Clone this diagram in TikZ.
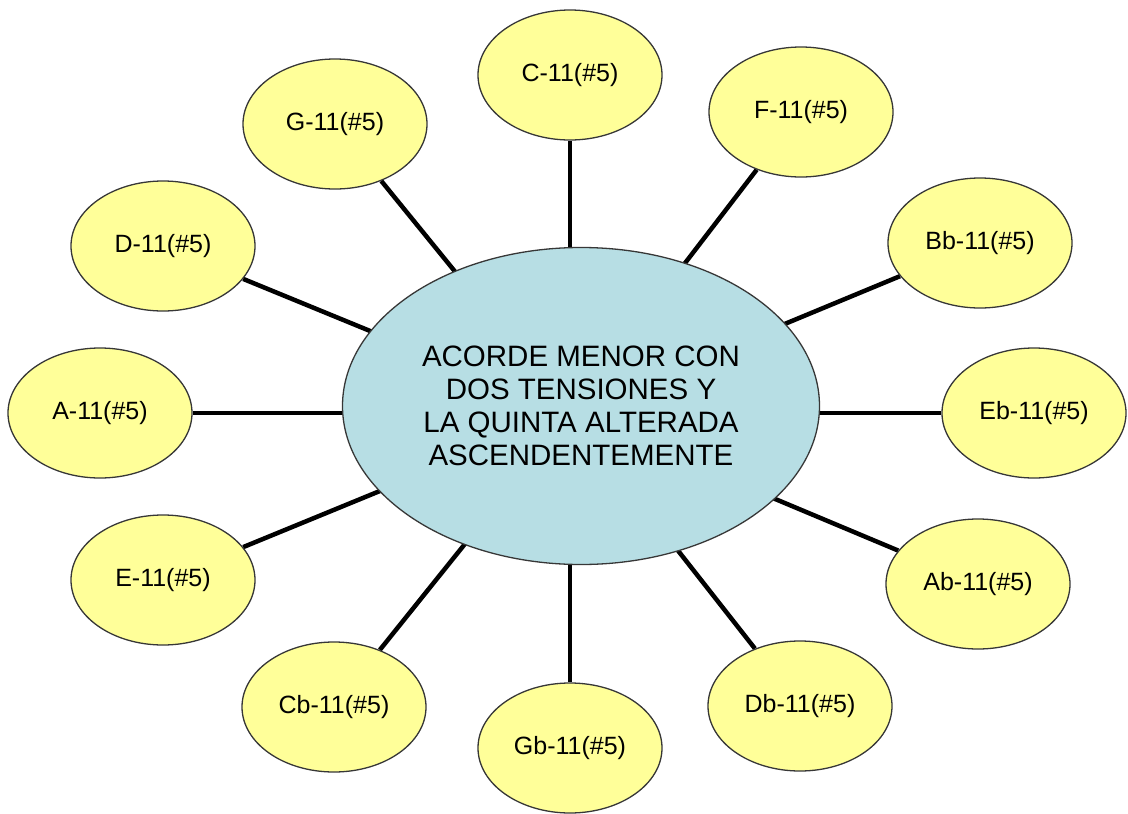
\documentclass[tikz,border=0pt]{standalone}
\usepackage{fontspec}
\setmainfont{Liberation Sans}
\usetikzlibrary{shapes.geometric}
\pgfdeclarelayer{spokes}
\pgfsetlayers{spokes,main}
\definecolor{chordfill}{RGB}{255,255,153}
\definecolor{hubfill}{RGB}{183,222,228}
\definecolor{rim}{RGB}{55,55,55}
\begin{document}
\begin{tikzpicture}[x=1pt,y=-1pt,
  chord/.style={ellipse, draw=rim, line width=1.3pt, fill=chordfill,
    minimum width=184pt, minimum height=130pt, inner sep=0pt,
    font=\fontsize{25}{29}\selectfont},
  hub/.style={ellipse, draw=rim, line width=1.3pt, fill=hubfill,
    minimum width=477pt, minimum height=317pt, inner sep=0pt, align=center,
    font=\fontsize{29.5}{33}\selectfont},
  spoke/.style={line width=4.5pt, black}]
\useasboundingbox (0,0) rectangle (1128,814);

% central chord family
\node[hub] (hub) at (581,406) {ACORDE MENOR CON\\DOS TENSIONES Y\\LA QUINTA ALTERADA\\ASCENDENTEMENTE};
% point inside the hub that all spokes radiate from
\coordinate (aim) at (570,413);

% the twelve roots, clockwise from the top
\node[chord] (c)  at (570,75)   {C-11(\#5)};
\node[chord] (f)  at (801,112)  {F-11(\#5)};
\node[chord] (bb) at (980,243)  {Bb-11(\#5)};
\node[chord] (eb) at (1034,413) {Eb-11(\#5)};
\node[chord] (ab) at (978,584)  {Ab-11(\#5)};
\node[chord] (db) at (800,706)  {Db-11(\#5)};
\node[chord] (gb) at (570,748)  {Gb-11(\#5)};
\node[chord] (cb) at (334,707)  {Cb-11(\#5)};
\node[chord] (e)  at (163,580)  {E-11(\#5)};
\node[chord] (a)  at (100,413)  {A-11(\#5)};
\node[chord] (d)  at (163,246)  {D-11(\#5)};
\node[chord] (g)  at (335,124)  {G-11(\#5)};

% spokes sit beneath the ellipses, so the hub hides their inner part
\begin{pgfonlayer}{spokes}
  \foreach \n in {c,f,bb,eb,ab,db,gb,cb,e,a,d,g}
    \draw[spoke] (aim) -- (\n);
\end{pgfonlayer}
\end{tikzpicture}
\end{document}
